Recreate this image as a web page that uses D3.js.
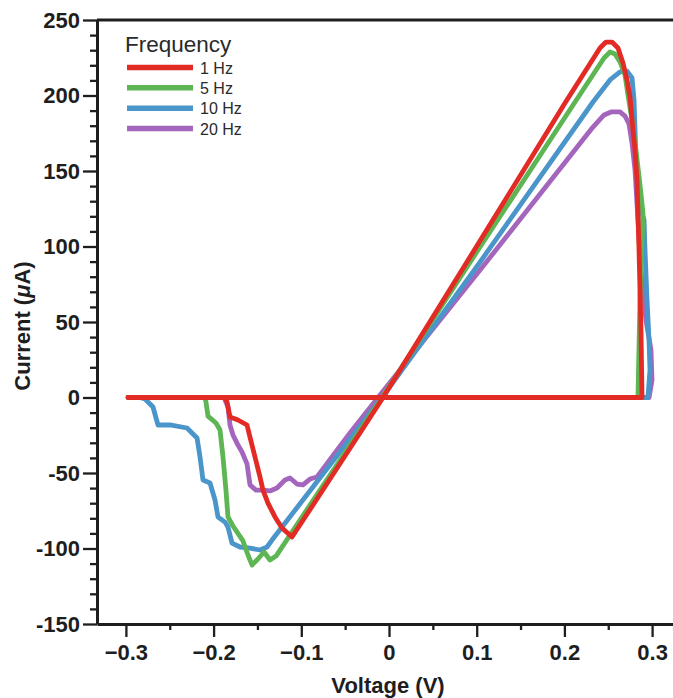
<!DOCTYPE html>
<html>
<head>
<meta charset="utf-8">
<script src="https://cdn.jsdelivr.net/npm/d3@7"></script>
<style>
  html, body { margin: 0; padding: 0; background: #ffffff; }
  svg { display: block; }
  text { font-family: "Liberation Sans", Arial, Helvetica, sans-serif; }
</style>
</head>
<body>
<svg id="chart" width="673" height="698"></svg>
<script>
// ---- data (Voltage in V, Current in µA) ----
const frequencies = ["1 Hz", "5 Hz", "10 Hz", "20 Hz"];
const seriesColors = ["#e32b25", "#5db553", "#4a95c9", "#a466bd"];

const hz1 = [
  [-0.2976,0],[0.2885,0],[0.2873,44.7],[0.2851,97.7],[0.2828,144.0],[0.2805,163.9],
  [0.2771,183.8],[0.2748,199.0],[0.2714,210.3],[0.2668,221.5],[0.2611,231.5],
  [0.2543,235.4],[0.2474,235.4],[0.2406,231.5],[0.2007,195.0],[0.0924,93.0],
  [-0.0068,0],[-0.0673,-54.0],[-0.1106,-92.4],[-0.1220,-86.4],[-0.1300,-79.1],
  [-0.1380,-69.9],[-0.1437,-61.3],[-0.1471,-52.6],[-0.1528,-39.4],[-0.1585,-26.2],
  [-0.1619,-18.2],[-0.1722,-14.9],[-0.1813,-12.9],[-0.1847,-3.0],[-0.1870,0]
];
const hz5 = [
  [-0.2976,0],[0.2839,0],[0.2862,64.6],[0.2885,104.3],[0.2896,122.2],[0.2862,140.7],
  [0.2816,163.9],[0.2771,183.8],[0.2725,200.3],[0.2691,213.6],[0.2634,222.2],
  [0.2577,227.5],[0.2520,228.8],[0.2452,224.8],[0.2121,195.7],[0.1038,99.7],
  [-0.0080,0],[-0.0787,-61.3],[-0.1288,-105.0],[-0.1357,-107.6],[-0.1425,-102.3],
  [-0.1505,-107.6],[-0.1562,-110.9],[-0.1608,-104.3],[-0.1665,-95.0],[-0.1779,-85.1],
  [-0.1836,-79.1],[-0.1859,-61.3],[-0.1893,-39.4],[-0.1927,-21.5],[-0.1973,-16.9],
  [-0.2064,-12.3],[-0.2087,-3.0],[-0.2098,0]
];
const hz10 = [
  [-0.2976,0],[0.2953,0],[0.2976,18.2],[0.2965,38.1],[0.2942,64.6],[0.2919,97.7],
  [0.2908,117.5],[0.2862,127.5],[0.2816,157.3],[0.2794,197.0],[0.2771,211.6],
  [0.2714,216.2],[0.2634,215.6],[0.2520,210.3],[0.2326,195.7],[0.1038,89.7],
  [-0.0080,0],[-0.1334,-94.4],[-0.1391,-99.0],[-0.1471,-101.0],[-0.1585,-99.7],
  [-0.1699,-99.0],[-0.1790,-96.4],[-0.1836,-85.8],[-0.1870,-82.5],[-0.1950,-79.1],
  [-0.1984,-67.9],[-0.2041,-56.6],[-0.2121,-54.6],[-0.2155,-39.4],[-0.2189,-26.8],
  [-0.2303,-20.2],[-0.2497,-18.2],[-0.2634,-18.2],[-0.2691,-6.3],[-0.2782,-1.0],
  [-0.2839,0]
];
const hz20 = [
  [-0.2976,0],[0.2965,0],[0.2999,11.6],[0.2987,31.5],[0.2930,51.3],[0.2873,84.4],
  [0.2839,117.5],[0.2805,150.7],[0.2771,168.5],[0.2737,181.1],[0.2691,186.4],
  [0.2634,189.1],[0.2531,189.1],[0.2452,187.1],[0.2326,179.1],[0.1038,84.4],
  [-0.0125,0],[-0.0445,-23.5],[-0.0821,-52.6],[-0.0901,-54.0],[-0.0981,-57.9],
  [-0.1049,-57.3],[-0.1129,-53.3],[-0.1186,-54.6],[-0.1277,-59.9],[-0.1357,-61.9],
  [-0.1437,-61.3],[-0.1517,-61.3],[-0.1585,-57.9],[-0.1619,-44.0],[-0.1676,-36.1],
  [-0.1722,-31.5],[-0.1779,-24.8],[-0.1813,-18.2],[-0.1836,-6.3],[-0.1881,0]
];

const xTicks = [-0.3, -0.2, -0.1, 0, 0.1, 0.2, 0.3];
const xMinorTicks = [-0.25, -0.15, -0.05, 0.05, 0.15, 0.25];
const yTicks = [-150, -100, -50, 0, 50, 100, 150, 200, 250];
const yMinorTicks = d3.range(-140, 250, 10).filter(d => d % 50 !== 0);

const xLabel = "Voltage (V)";
const yLabelParts = ["Current (", "μ", "A)"];
const legendTitle = "Frequency";

// ---- drawing ----
(function draw() {
const svg = d3.select("#chart");
const mLeft = 97, mRight = 673, mTop = 20, mBottom = 624;

const x = d3.scaleLinear().domain([-0.33295, 0.32383]).range([mLeft, mRight]);
const y = d3.scaleLinear().domain([-150, 250]).range([mBottom, mTop]);

const ink = "#1e1e1e";

// curves (purple below, red on top)
const allSeries = [hz1, hz5, hz10, hz20];
const line = d3.line().x(d => x(d[0])).y(d => y(d[1])).curve(d3.curveLinear);
const order = [3, 2, 1, 0];
svg.append("g").selectAll("path")
  .data(order)
  .join("path")
  .attr("d", i => line(allSeries[i]))
  .attr("fill", "none")
  .attr("stroke", i => seriesColors[i])
  .attr("stroke-width", 4.8)
  .attr("stroke-linejoin", "round")
  .attr("stroke-linecap", "round");

// x axis minor ticks
svg.append("g")
  .attr("transform", `translate(0,${mBottom})`)
  .call(d3.axisBottom(x).tickValues(xMinorTicks).tickSize(6).tickSizeOuter(0).tickFormat(""))
  .call(g => g.select(".domain").remove())
  .call(g => g.selectAll("line").attr("stroke", ink).attr("stroke-width", 2.3));

// x axis major
const fmtX = d => d === 0 ? "0" : (d < 0 ? "\u2212" : "") + Math.abs(d).toFixed(1);
svg.append("g")
  .attr("transform", `translate(0,${mBottom})`)
  .call(d3.axisBottom(x).tickValues(xTicks).tickSize(13).tickPadding(7).tickSizeOuter(0).tickFormat(fmtX))
  .call(g => g.select(".domain").attr("stroke", ink).attr("stroke-width", 3))
  .call(g => g.selectAll("line").attr("stroke", ink).attr("stroke-width", 2.3))
  .call(g => g.selectAll("text").attr("fill", ink).attr("font-size", 22).attr("font-weight", "bold")
    .attr("font-family", '"Liberation Sans", Arial, sans-serif'));

// y axis minor
svg.append("g")
  .attr("transform", `translate(${mLeft},0)`)
  .call(d3.axisLeft(y).tickValues(yMinorTicks).tickSize(7).tickSizeOuter(0).tickFormat(""))
  .call(g => g.select(".domain").remove())
  .call(g => g.selectAll("line").attr("stroke", ink).attr("stroke-width", 2.3));

// y axis major
svg.append("g")
  .attr("transform", `translate(${mLeft},0)`)
  .call(d3.axisLeft(y).tickValues(yTicks).tickSize(14).tickPadding(3).tickSizeOuter(0).tickFormat(d => String(d)))
  .call(g => g.select(".domain").attr("stroke", ink).attr("stroke-width", 3))
  .call(g => g.selectAll("line").attr("stroke", ink).attr("stroke-width", 2.3))
  .call(g => g.selectAll("text").attr("fill", ink).attr("font-size", 22).attr("font-weight", "bold")
    .attr("font-family", '"Liberation Sans", Arial, sans-serif'));

// top frame line
svg.append("line")
  .attr("x1", mLeft).attr("x2", mRight).attr("y1", y(250)).attr("y2", y(250))
  .attr("stroke", ink).attr("stroke-width", 3);

// axis titles
svg.append("text")
  .attr("x", 388).attr("y", 693)
  .attr("text-anchor", "middle")
  .attr("font-size", 22).attr("font-weight", "bold").attr("fill", ink)
  .text(xLabel);

const yt = svg.append("text")
  .attr("transform", "translate(30,326) rotate(-90)")
  .attr("text-anchor", "middle")
  .attr("font-size", 22).attr("font-weight", "bold").attr("fill", ink);
yt.append("tspan").text(yLabelParts[0]);
yt.append("tspan").attr("font-style", "italic").text(yLabelParts[1]);
yt.append("tspan").text(yLabelParts[2]);

// legend
const lg = svg.append("g");
lg.append("text").attr("x", 125).attr("y", 52)
  .attr("font-size", 22.5).attr("fill", "#2a2a2a").text(legendTitle);
const legendY = d3.scalePoint().domain(frequencies).range([67.5, 128.5]);
frequencies.forEach((f, i) => {
  lg.append("line")
    .attr("x1", 127).attr("x2", 193)
    .attr("y1", legendY(f)).attr("y2", legendY(f))
    .attr("stroke", seriesColors[i]).attr("stroke-width", 5.5);
  lg.append("text")
    .attr("x", 200).attr("y", legendY(f) + 6)
    .attr("font-size", 16).attr("fill", "#2a2a2a").text(f);
});
})();
</script>
</body>
</html>
